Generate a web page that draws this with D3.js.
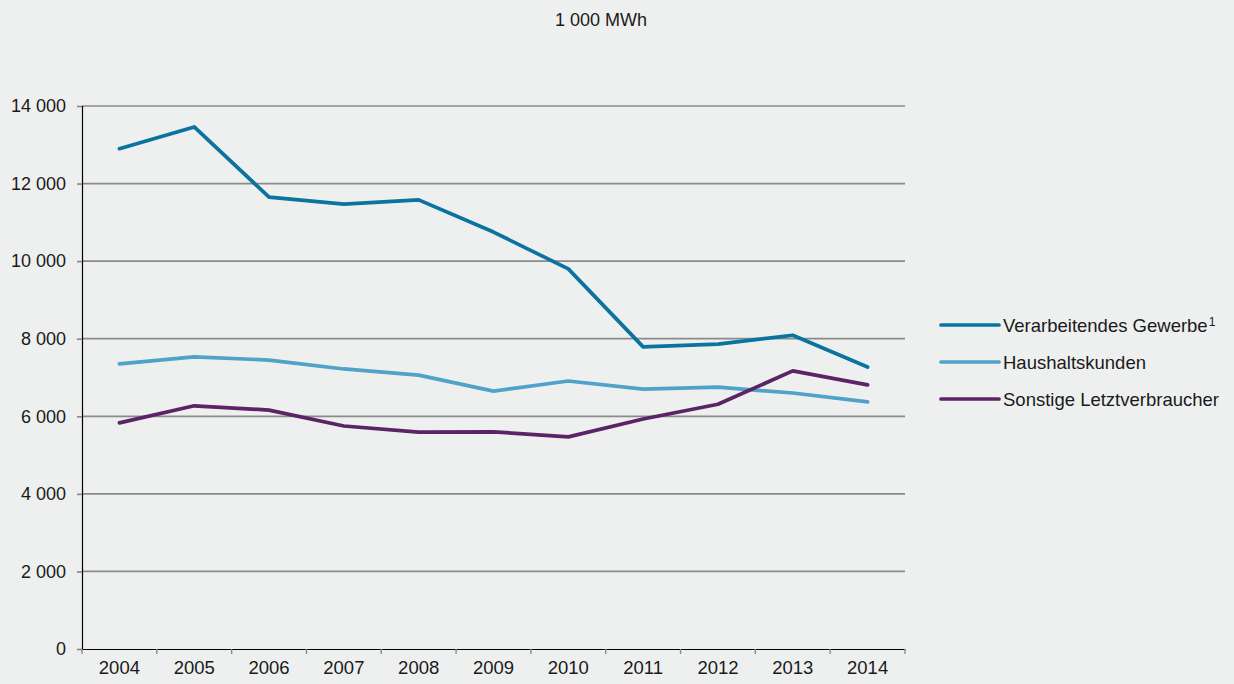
<!DOCTYPE html>
<html>
<head>
<meta charset="utf-8">
<script src="https://cdn.jsdelivr.net/npm/d3@7"></script>
<style>
  html, body { margin: 0; padding: 0; background: #eef0ef; }
  svg { display: block; font-family: "Liberation Sans", Arial, sans-serif; }
</style>
</head>
<body>
<svg id="chart" width="1234" height="684"></svg>
<script>
'use strict';

// ─── Дані ────────────────────────────────────────────────────────────────
const years = ['2004','2005','2006','2007','2008','2009','2010','2011','2012','2013','2014'];
const verarbeitend = [12900, 13460, 11650, 11470, 11580, 10750, 9800, 7790, 7860, 8090, 7270];
const haushalt     = [7350, 7530, 7450, 7220, 7060, 6650, 6910, 6700, 6750, 6600, 6370];
const sonstige     = [5830, 6270, 6160, 5750, 5590, 5600, 5470, 5930, 6310, 7170, 6810];
const yTicks = [0, 2000, 4000, 6000, 8000, 10000, 12000, 14000];

const seriesNames  = ['Verarbeitendes Gewerbe', 'Haushaltskunden', 'Sonstige Letztverbraucher'];
const seriesColors = ['#0a73a0', '#4fa2c8', '#5a2466'];
const seriesData   = [verarbeitend, haushalt, sonstige];

// ─── Побудова ────────────────────────────────────────────────────────────
const svg = d3.select('#chart');
const M = { left: 82, right: 905, top: 106, bottom: 649 };
const FONT = '"Liberation Sans", Arial, sans-serif';

const x = d3.scaleBand().domain(years).range([M.left, M.right]);
const y = d3.scaleLinear().domain([0, 14000]).range([M.bottom, M.top]);
const fmt = v => v === 0 ? '0' : d3.format(',')(v).replace(',', ' ');

svg.append('text').attr('x', 601).attr('y', 26).attr('text-anchor', 'middle')
  .attr('font-size', 18).attr('fill', '#1a1a1a').text('1 000 MWh');

// Сітка
svg.append('g').selectAll('line').data(yTicks.filter(d => d > 0)).join('line')
  .attr('x1', M.left).attr('x2', M.right)
  .attr('y1', d => y(d)).attr('y2', d => y(d))
  .attr('stroke', '#8a8a8a').attr('stroke-width', 1.7);

// Вісь Y
const gy = svg.append('g').attr('transform', `translate(${M.left},0)`)
  .call(d3.axisLeft(y).tickValues(yTicks).tickFormat(fmt).tickSize(5).tickPadding(11));
gy.select('.domain').attr('stroke', '#000').attr('stroke-width', 1.2);
gy.selectAll('.tick line').attr('stroke', '#8a8a8a').attr('stroke-width', 1.7);
gy.selectAll('text').attr('font-size', 18).attr('fill', '#1a1a1a').attr('font-family', FONT);

// Вісь X
const gx = svg.append('g').attr('transform', `translate(0,${M.bottom})`)
  .call(d3.axisBottom(x).tickSize(0).tickPadding(12));
gx.select('.domain').attr('stroke', '#000').attr('stroke-width', 1.2);
gx.selectAll('text').attr('font-size', 18.5).attr('fill', '#1a1a1a').attr('font-family', FONT);
svg.append('g').selectAll('line').data(years.concat(['end'])).join('line')
  .attr('x1', (d, i) => M.left + i * x.step()).attr('x2', (d, i) => M.left + i * x.step())
  .attr('y1', M.bottom).attr('y2', M.bottom + 5)
  .attr('stroke', '#8a8a8a').attr('stroke-width', 1.4);

// Лінії
const line = d3.line()
  .x((d, i) => x(years[i]) + x.bandwidth() / 2)
  .y(d => y(d));
seriesData.forEach((data, k) => {
  svg.append('path').datum(data).attr('d', line)
    .attr('fill', 'none').attr('stroke', seriesColors[k])
    .attr('stroke-width', 3.7).attr('stroke-linejoin', 'round').attr('stroke-linecap', 'round');
});

// Легенда
const leg = svg.append('g');
seriesNames.forEach((name, k) => {
  const ly = 325 + k * 37;
  leg.append('line').attr('x1', 941).attr('x2', 999).attr('y1', ly).attr('y2', ly)
    .attr('stroke', seriesColors[k]).attr('stroke-width', 3.7).attr('stroke-linecap', 'round');
  const t = leg.append('text').attr('x', 1003).attr('y', ly + 6.5)
    .attr('font-size', 18.5).attr('fill', '#1a1a1a').text(name);
  if (k === 0) t.append('tspan').attr('font-size', 12).attr('dy', -6).attr('dx', 1).text('1');
});
</script>
</body>
</html>
